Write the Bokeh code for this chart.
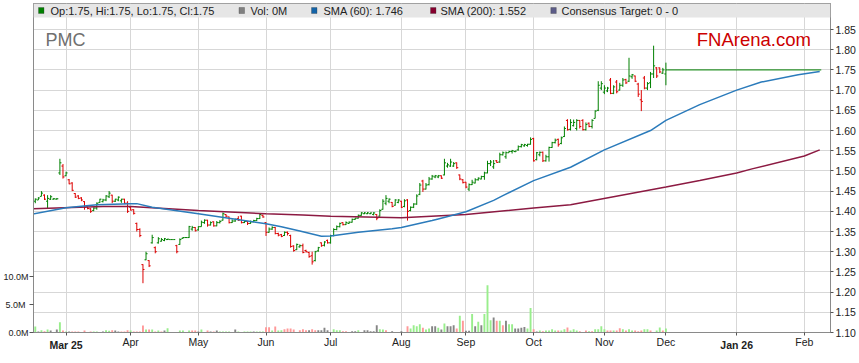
import numpy as np
import pandas as pd
from bokeh.plotting import figure
from bokeh.models import (Range1d, LinearAxis, FixedTicker, Label,
                          BoxAnnotation, ColumnDataSource, NumeralTickFormatter,
                          PrintfTickFormatter, AllLabels)
from bokeh.embed import file_html
from bokeh.resources import INLINE

# ---------------- data ----------------
ticker_name = "PMC"
brand = "FNArena.com"
first_bar_date = "2025-02-17"      # first trading day shown
axis_origin = "2025-03-03"         # weekday axis origin (first weekday of March 2025)

open_ = [
    1.425, 1.428, 1.437, 1.440, 1.425, 1.430, 1.430, 1.430, 1.495, 1.512,
    1.488, 1.478, 1.470, 1.444, 1.438, 1.433, 1.424, 1.411, 1.406, 1.402,
    1.408, 1.422, 1.424, 1.428, 1.436, 1.440, 1.425, 1.428, 1.426, 1.430,
    1.420, 1.410, 1.404, 1.370, 1.355, 1.268, 1.280, 1.278, 1.322, 1.310,
    1.322, 1.326, 1.328, 1.330, 1.330, 1.330, 1.315, 1.318, 1.333, 1.335,
    1.335, 1.356, 1.360, 1.354, 1.362, 1.372, 1.378, 1.366, 1.374, 1.364,
    1.372, 1.378, 1.392, 1.386, 1.372, 1.376, 1.382, 1.388, 1.372, 1.375,
    1.370, 1.374, 1.377, 1.382, 1.390, 1.372, 1.348, 1.356, 1.360, 1.345,
    1.342, 1.340, 1.348, 1.340, 1.314, 1.305, 1.312, 1.315, 1.303, 1.298,
    1.290, 1.278, 1.302, 1.322, 1.316, 1.328, 1.322, 1.340, 1.355, 1.362,
    1.372, 1.367, 1.370, 1.373, 1.380, 1.383, 1.390, 1.394, 1.394, 1.394,
    1.392, 1.392, 1.388, 1.405, 1.420, 1.425, 1.422, 1.415, 1.422, 1.425,
    1.412, 1.428, 1.402, 1.410, 1.418, 1.442, 1.475, 1.455, 1.466, 1.480,
    1.485, 1.485, 1.488, 1.490, 1.512, 1.512, 1.512, 1.520, 1.490, 1.478,
    1.472, 1.455, 1.466, 1.470, 1.478, 1.480, 1.486, 1.495, 1.518, 1.510,
    1.525, 1.522, 1.540, 1.535, 1.545, 1.548, 1.548, 1.552, 1.560, 1.562,
    1.563, 1.566, 1.580, 1.528, 1.540, 1.546, 1.525, 1.535, 1.558, 1.570,
    1.578, 1.568, 1.585, 1.625, 1.603, 1.612, 1.605, 1.625, 1.625, 1.602,
    1.618, 1.610, 1.630, 1.650, 1.705, 1.695, 1.698, 1.725, 1.692, 1.720,
    1.700, 1.712, 1.726, 1.722, 1.733, 1.735, 1.715, 1.676, 1.730, 1.705,
    1.718, 1.740, 1.755, 1.755, 1.742, 1.740,
]
high = [
    1.432, 1.435, 1.450, 1.442, 1.440, 1.440, 1.433, 1.433, 1.530, 1.517,
    1.498, 1.480, 1.472, 1.445, 1.440, 1.435, 1.425, 1.412, 1.408, 1.410,
    1.422, 1.431, 1.431, 1.440, 1.450, 1.441, 1.431, 1.437, 1.431, 1.431,
    1.425, 1.411, 1.405, 1.372, 1.358, 1.269, 1.300, 1.279, 1.342, 1.313,
    1.336, 1.334, 1.334, 1.332, 1.330, 1.330, 1.317, 1.333, 1.336, 1.336,
    1.364, 1.364, 1.361, 1.363, 1.377, 1.380, 1.379, 1.375, 1.375, 1.376,
    1.378, 1.397, 1.393, 1.387, 1.380, 1.382, 1.388, 1.389, 1.378, 1.376,
    1.377, 1.379, 1.384, 1.395, 1.392, 1.373, 1.360, 1.363, 1.361, 1.347,
    1.344, 1.350, 1.350, 1.342, 1.316, 1.320, 1.318, 1.320, 1.305, 1.300,
    1.300, 1.302, 1.312, 1.323, 1.326, 1.330, 1.342, 1.358, 1.365, 1.372,
    1.373, 1.375, 1.375, 1.382, 1.384, 1.392, 1.398, 1.398, 1.398, 1.397,
    1.398, 1.393, 1.405, 1.430, 1.440, 1.432, 1.423, 1.430, 1.430, 1.426,
    1.430, 1.430, 1.412, 1.420, 1.442, 1.470, 1.478, 1.470, 1.485, 1.490,
    1.490, 1.490, 1.489, 1.530, 1.520, 1.530, 1.522, 1.521, 1.491, 1.480,
    1.473, 1.469, 1.478, 1.482, 1.484, 1.488, 1.498, 1.525, 1.527, 1.527,
    1.527, 1.545, 1.548, 1.548, 1.550, 1.552, 1.550, 1.563, 1.567, 1.567,
    1.567, 1.583, 1.582, 1.547, 1.548, 1.548, 1.540, 1.560, 1.572, 1.580,
    1.580, 1.585, 1.610, 1.628, 1.628, 1.627, 1.628, 1.626, 1.628, 1.620,
    1.620, 1.628, 1.650, 1.722, 1.722, 1.712, 1.708, 1.730, 1.712, 1.725,
    1.718, 1.730, 1.728, 1.780, 1.740, 1.736, 1.718, 1.700, 1.735, 1.720,
    1.745, 1.810, 1.757, 1.756, 1.755, 1.768,
]
low = [
    1.420, 1.428, 1.437, 1.428, 1.407, 1.428, 1.429, 1.429, 1.490, 1.481,
    1.487, 1.467, 1.450, 1.433, 1.430, 1.425, 1.404, 1.405, 1.396, 1.400,
    1.404, 1.421, 1.422, 1.425, 1.433, 1.420, 1.423, 1.425, 1.421, 1.418,
    1.396, 1.402, 1.392, 1.350, 1.336, 1.222, 1.279, 1.262, 1.320, 1.296,
    1.320, 1.325, 1.326, 1.329, 1.330, 1.330, 1.296, 1.317, 1.332, 1.334,
    1.334, 1.352, 1.350, 1.352, 1.362, 1.369, 1.362, 1.365, 1.362, 1.363,
    1.370, 1.377, 1.385, 1.370, 1.371, 1.374, 1.376, 1.370, 1.371, 1.366,
    1.369, 1.373, 1.376, 1.381, 1.384, 1.339, 1.347, 1.354, 1.343, 1.338,
    1.336, 1.339, 1.340, 1.310, 1.300, 1.304, 1.310, 1.296, 1.298, 1.285,
    1.268, 1.276, 1.300, 1.312, 1.313, 1.320, 1.320, 1.338, 1.353, 1.360,
    1.365, 1.366, 1.369, 1.372, 1.379, 1.382, 1.389, 1.393, 1.393, 1.393,
    1.390, 1.378, 1.387, 1.404, 1.415, 1.420, 1.410, 1.414, 1.420, 1.408,
    1.410, 1.377, 1.400, 1.408, 1.416, 1.440, 1.448, 1.454, 1.464, 1.478,
    1.482, 1.482, 1.480, 1.489, 1.508, 1.510, 1.510, 1.505, 1.477, 1.469,
    1.457, 1.450, 1.465, 1.469, 1.476, 1.479, 1.478, 1.494, 1.512, 1.505,
    1.520, 1.520, 1.538, 1.530, 1.545, 1.543, 1.546, 1.550, 1.558, 1.560,
    1.560, 1.565, 1.523, 1.526, 1.536, 1.522, 1.523, 1.523, 1.557, 1.568,
    1.560, 1.566, 1.584, 1.600, 1.600, 1.610, 1.600, 1.605, 1.600, 1.600,
    1.608, 1.605, 1.630, 1.648, 1.700, 1.690, 1.695, 1.690, 1.690, 1.692,
    1.699, 1.708, 1.715, 1.720, 1.728, 1.720, 1.683, 1.648, 1.702, 1.700,
    1.705, 1.730, 1.730, 1.742, 1.740, 1.712,
]
close = [
    1.430, 1.433, 1.445, 1.430, 1.432, 1.436, 1.431, 1.431, 1.520, 1.485,
    1.495, 1.468, 1.452, 1.435, 1.432, 1.428, 1.410, 1.407, 1.400, 1.408,
    1.420, 1.430, 1.428, 1.438, 1.445, 1.425, 1.430, 1.435, 1.430, 1.420,
    1.400, 1.403, 1.395, 1.355, 1.340, 1.256, 1.295, 1.265, 1.335, 1.300,
    1.332, 1.330, 1.332, 1.331, 1.330, 1.330, 1.300, 1.330, 1.335, 1.335,
    1.362, 1.360, 1.352, 1.362, 1.373, 1.378, 1.366, 1.372, 1.364, 1.372,
    1.375, 1.394, 1.388, 1.372, 1.376, 1.380, 1.378, 1.372, 1.375, 1.370,
    1.374, 1.377, 1.382, 1.392, 1.386, 1.348, 1.356, 1.360, 1.345, 1.341,
    1.338, 1.348, 1.345, 1.313, 1.303, 1.318, 1.315, 1.298, 1.300, 1.288,
    1.275, 1.300, 1.310, 1.315, 1.324, 1.322, 1.340, 1.355, 1.362, 1.370,
    1.367, 1.372, 1.373, 1.380, 1.383, 1.390, 1.396, 1.396, 1.396, 1.396,
    1.396, 1.383, 1.402, 1.425, 1.432, 1.430, 1.412, 1.428, 1.428, 1.410,
    1.426, 1.400, 1.410, 1.418, 1.438, 1.465, 1.455, 1.465, 1.480, 1.487,
    1.488, 1.488, 1.482, 1.520, 1.515, 1.522, 1.518, 1.508, 1.480, 1.471,
    1.460, 1.466, 1.472, 1.478, 1.482, 1.486, 1.495, 1.518, 1.522, 1.518,
    1.521, 1.540, 1.545, 1.545, 1.548, 1.550, 1.549, 1.560, 1.565, 1.565,
    1.566, 1.578, 1.525, 1.545, 1.546, 1.525, 1.535, 1.558, 1.570, 1.576,
    1.565, 1.582, 1.605, 1.602, 1.620, 1.620, 1.625, 1.610, 1.602, 1.615,
    1.610, 1.625, 1.648, 1.712, 1.716, 1.705, 1.705, 1.692, 1.708, 1.696,
    1.712, 1.725, 1.718, 1.735, 1.738, 1.722, 1.690, 1.672, 1.705, 1.716,
    1.740, 1.760, 1.735, 1.745, 1.750, 1.750,
]
volume_m = [
    1.08, 0.18, 0.42, 0.24, 0.54, 0.36, 0.10, 0.54, 1.86, 0.36,
    0.18, 0.18, 0.18, 0.18, 0.18, 0.05, 0.36, 0.05, 0.18, 0.18,
    0.18, 0.05, 0.18, 0.42, 0.30, 0.42, 0.36, 0.18, 0.18, 0.18,
    0.42, 0.36, 0.18, 0.18, 0.18, 1.26, 0.54, 0.54, 0.54, 0.18,
    0.36, 0.18, 0.36, 0.78, 0.00, 0.00, 0.05, 0.36, 0.36, 0.00,
    0.36, 0.36, 0.36, 0.18, 0.54, 0.05, 0.36, 0.18, 0.18, 0.36,
    0.18, 0.18, 0.18, 0.18, 0.05, 0.54, 0.18, 0.05, 0.18, 0.18,
    0.18, 0.18, 0.18, 0.18, 0.18, 0.96, 0.96, 0.36, 1.08, 0.36,
    0.42, 0.60, 0.72, 0.72, 0.54, 0.10, 0.42, 0.60, 0.42, 0.42,
    0.60, 0.42, 0.42, 0.42, 0.84, 0.42, 0.10, 0.60, 0.42, 0.42,
    0.24, 0.24, 0.10, 0.24, 0.24, 0.42, 0.10, 0.42, 0.42, 0.24,
    0.24, 1.32, 0.60, 0.54, 0.42, 0.10, 0.24, 0.10, 0.10, 0.24,
    0.10, 1.14, 0.72, 1.32, 1.14, 1.50, 0.84, 0.54, 0.72, 1.14,
    1.14, 0.84, 0.54, 1.62, 1.14, 1.14, 1.32, 0.72, 3.00, 2.10,
    0.30, 0.30, 3.30, 1.14, 1.92, 1.32, 3.30, 8.50, 2.20, 2.70,
    2.10, 2.10, 1.32, 2.10, 1.50, 1.50, 0.72, 0.72, 0.84, 1.00,
    0.72, 4.40, 0.60, 0.20, 0.36, 0.24, 0.36, 0.36, 0.60, 0.36,
    0.36, 0.36, 0.60, 0.90, 0.36, 0.60, 0.36, 0.24, 0.10, 0.36,
    0.24, 0.24, 0.60, 0.60, 1.14, 0.60, 0.36, 0.36, 0.36, 0.36,
    0.78, 0.60, 0.36, 0.60, 0.36, 0.36, 0.24, 0.36, 0.60, 0.60,
    0.36, 0.10, 0.36, 0.90, 0.36, 0.72,
]
# sign of the day's change as shown by the volume bar colour (1 up, -1 down, 0 unchanged)
volume_dir = [
    1, 0, 1, -1, 1, 0, 0, 0, 1, -1,
    1, 0, -1, -1, -1, 0, -1, 0, -1, 1,
    1, 0, 0, 1, 1, -1, 0, 0, -1, -1,
    -1, 1, -1, -1, -1, -1, 1, -1, 1, -1,
    1, -1, 0, 1, 0, 0, 0, 1, 1, 0,
    1, -1, -1, 0, 1, 0, -1, 0, -1, 0,
    1, 1, 1, 1, 0, 0, 1, 0, 1, 1,
    1, 0, 1, 1, 1, -1, -1, 1, -1, 1,
    1, -1, -1, -1, -1, 0, -1, -1, -1, 0,
    -1, -1, 0, 0, 0, 0, 0, 1, 1, 1,
    -1, -1, 0, 0, 0, 1, 0, 0, 0, 0,
    0, 0, 1, 1, -1, 0, 0, 0, 0, 0,
    0, -1, 1, 1, 1, 1, -1, 1, 1, 0,
    0, 1, 0, 1, 0, 0, 0, -1, 1, -1,
    0, 0, 1, 0, 1, 0, 1, 1, 1, 0,
    -1, 1, -1, 0, 1, 1, 0, 0, 0, 0,
    1, 1, -1, 0, 1, -1, 1, 1, 1, 1,
    -1, 1, 1, -1, 1, 1, 1, -1, 0, -1,
    1, -1, 1, 1, 1, 1, -1, -1, 1, -1,
    -1, 1, -1, 1, 1, -1, -1, -1, 1, 1,
    -1, 0, 1, 1, -1, 1,
]

# flat continuation of the last close into the future part of the axis
proj_dates = ["2025-12-02", "2026-02-09"]
proj_price = [1.75, 1.75]

sma60_dates = ["2025-02-14", "2025-03-03", "2025-03-17", "2025-04-01", "2025-04-03",
               "2025-04-10", "2025-05-01", "2025-06-02", "2025-06-09", "2025-06-17",
               "2025-06-26", "2025-07-01", "2025-07-14", "2025-07-29", "2025-08-01",
               "2025-08-15", "2025-08-19", "2025-09-01", "2025-09-12", "2025-09-17",
               "2025-10-01", "2025-10-17", "2025-11-03", "2025-11-24", "2025-12-01",
               "2025-12-16", "2026-01-01", "2026-01-13", "2026-01-29", "2026-02-09"]
sma60 = [1.393, 1.409, 1.416, 1.419, 1.419,
         1.410, 1.394, 1.369, 1.362, 1.351,
         1.338, 1.339, 1.348, 1.357, 1.360,
         1.377, 1.381, 1.399, 1.427, 1.439,
         1.476, 1.509, 1.552, 1.600, 1.625,
         1.664, 1.700, 1.720, 1.738, 1.746]

sma200_dates = ["2025-02-14", "2025-03-19", "2025-04-01", "2025-05-01", "2025-06-02",
                "2025-06-18", "2025-07-01", "2025-08-01", "2025-09-01", "2025-10-01",
                "2025-10-17", "2025-12-01", "2025-12-16", "2026-01-01", "2026-01-08",
                "2026-02-02", "2026-02-09"]
sma200 = [1.406, 1.412, 1.412, 1.402, 1.394,
          1.391, 1.388, 1.384, 1.392, 1.408,
          1.416, 1.460, 1.476, 1.495, 1.505,
          1.537, 1.552]

month_dates = ["2025-03-03", "2025-04-01", "2025-05-01", "2025-06-02", "2025-07-01",
               "2025-08-01", "2025-09-01", "2025-10-01", "2025-11-03", "2025-12-01",
               "2026-01-01", "2026-02-02"]
month_labels = ["Mar 25", "Apr", "May", "Jun", "Jul", "Aug", "Sep", "Oct", "Nov",
                "Dec", "Jan 26", "Feb"]

price_ticks = [1.10, 1.15, 1.20, 1.25, 1.30, 1.35, 1.40, 1.45, 1.50, 1.55,
               1.60, 1.65, 1.70, 1.75, 1.80, 1.85]
volume_ticks_m = [0.0, 5.0, 10.0]

legend_texts = ["Op:1.75, Hi:1.75, Lo:1.75, Cl:1.75", "Vol: 0M", "SMA (60): 1.746",
                "SMA (200): 1.552", "Consensus Target: 0 - 0"]

# ---------------- helpers ----------------
ORIGIN = np.datetime64(axis_origin)


def wd_index(dates):
    d = pd.to_datetime(pd.Index(dates)).values.astype("datetime64[D]")
    return np.busday_count(ORIGIN, d)


bar_dates = pd.bdate_range(first_bar_date, periods=len(close))
bx = wd_index(bar_dates).astype(float)
month_idx = [int(v) for v in wd_index(month_dates)]
year_idx = [i for i, l in zip(month_idx, month_labels) if " " in l]
plain_idx = [i for i, l in zip(month_idx, month_labels) if " " not in l]
vol_mid = volume_ticks_m[1:2]
vol_ends = volume_ticks_m[0:1] + volume_ticks_m[2:3]

GREEN = "#008000"
RED = "#dd0000"
TICK = 0.5

bar_col = [GREEN if c >= o else RED for o, c in zip(open_, close)]
vcol_map = {1: "#99ee8c", -1: "#ff9999", 0: "#858585"}
vol_col = [vcol_map[d] for d in volume_dir]

FONT = "Liberation Sans"
AX_FS = "10.5px"
VOL_FS = "9px"
TXT = "#222222"
FRAME = "#8a8a8a"
TICKC = "#555555"

# ---------------- figure ----------------
p = figure(width=858, height=362,
           x_range=Range1d(-10.58, 248.5), y_range=Range1d(1.10, 1.9144),
           output_backend="svg", toolbar_location=None, y_axis_location="right",
           min_border_left=30, min_border_right=27, min_border_top=3, min_border_bottom=30,
           background_fill_color="white", border_fill_color="white",
           outline_line_color=FRAME, outline_line_width=1)
p.extra_y_ranges = {"vol": Range1d(0, 59.07)}

# grids
p.xgrid.ticker = FixedTicker(ticks=month_idx)
p.ygrid.ticker = FixedTicker(ticks=price_ticks)
for g in (p.xgrid, p.ygrid):
    g.grid_line_color = "#d7d7d7"
    g.grid_line_width = 1

# right price axis
yax = p.yaxis[0]
yax.ticker = FixedTicker(ticks=price_ticks)
yax.formatter = NumeralTickFormatter(format="0.00")
yax.major_label_policy = AllLabels()
yax.major_tick_out = 3
yax.major_tick_in = 0
yax.minor_tick_line_color = None
yax.major_label_standoff = 2
yax.major_label_text_font = FONT
yax.major_label_text_font_size = AX_FS
yax.major_label_text_color = TXT
yax.axis_line_color = FRAME
yax.major_tick_line_color = TICKC

# bottom date axis: plain month labels; year months get a tick only (label on 2nd axis)
xax = p.xaxis[0]
xax.ticker = FixedTicker(ticks=plain_idx, minor_ticks=year_idx)
xax.major_label_overrides = {i: l for i, l in zip(month_idx, month_labels) if " " not in l}
xax.major_label_policy = AllLabels()
xax.major_tick_out = 3
xax.major_tick_in = 0
xax.minor_tick_out = 3
xax.minor_tick_in = 0
xax.minor_tick_line_color = TICKC
xax.major_label_standoff = 0
xax.major_label_text_font = FONT
xax.major_label_text_font_size = AX_FS
xax.major_label_text_color = TXT
xax.axis_line_color = FRAME
xax.major_tick_line_color = TICKC

# second date axis carrying only the bold year labels, pulled up onto the same row
yr_ax = LinearAxis(ticker=FixedTicker(ticks=year_idx),
                   major_label_overrides={i: l for i, l in zip(month_idx, month_labels) if " " in l},
                   major_label_policy=AllLabels(),
                   major_tick_out=0, major_tick_in=0, major_tick_line_color=None,
                   minor_tick_line_color=None, axis_line_color=None,
                   major_label_standoff=-12, major_label_text_font=FONT,
                   major_label_text_font_size=AX_FS, major_label_text_font_style="bold",
                   major_label_text_color=TXT)
p.add_layout(yr_ax, "below")

# left volume axis, inner part: all three tick marks, labels of the end ticks
vax_ends = LinearAxis(y_range_name="vol", ticker=FixedTicker(ticks=vol_ends, minor_ticks=vol_mid),
                      formatter=PrintfTickFormatter(format="%.1fM"),
                      major_label_policy=AllLabels(),
                      major_tick_out=4, major_tick_in=0, minor_tick_out=4, minor_tick_in=0,
                      major_label_standoff=1, major_label_text_font=FONT,
                      major_label_text_font_size=VOL_FS, major_label_text_color=TXT,
                      axis_line_color=FRAME, major_tick_line_color=TICKC,
                      minor_tick_line_color=TICKC)
p.add_layout(vax_ends, "left")

# left volume axis, outer part: label of the middle tick, pulled back onto the same column
vax_mid = LinearAxis(y_range_name="vol", ticker=FixedTicker(ticks=vol_mid),
                     formatter=PrintfTickFormatter(format="%.1fM"),
                     major_label_policy=AllLabels(),
                     major_tick_out=0, major_tick_in=0, major_tick_line_color=None,
                     minor_tick_line_color=None, axis_line_color=None,
                     major_label_standoff=-25, major_label_text_font=FONT,
                     major_label_text_font_size=VOL_FS, major_label_text_color=TXT)
p.add_layout(vax_mid, "left")

# ---------------- glyphs ----------------
vsrc = ColumnDataSource(dict(x=bx, v=volume_m, col=vol_col))
p.vbar(x="x", top="v", bottom=0, width=0.62, y_range_name="vol",
       fill_color="col", line_color=None, source=vsrc)

src = ColumnDataSource(dict(x=bx, xl=bx - TICK, xr=bx + TICK, o=open_, h=high,
                            l=low, c=close, col=bar_col))
p.segment(x0="x", y0="l", x1="x", y1="h", line_color="col", line_width=1, source=src)
p.segment(x0="xl", y0="o", x1="x", y1="o", line_color="col", line_width=1, source=src)
p.segment(x0="x", y0="c", x1="xr", y1="c", line_color="col", line_width=1, source=src)

px = wd_index(proj_dates).astype(float)
p.line([px[0] - TICK, px[1] + TICK], proj_price, line_color=GREEN, line_width=1)

p.line(wd_index(sma200_dates), sma200, line_color="#8c1a42", line_width=1.5)
p.line(wd_index(sma60_dates), sma60, line_color="#2b7bbb", line_width=1.5)

# ---------------- annotations (inside the frame) ----------------
p.add_layout(BoxAnnotation(bottom=315, bottom_units="screen", fill_color="#e6e6e6",
                           fill_alpha=1.0, line_color=None))
sq_left = [5, 205.5, 278, 397, 517.3]
sq_color = [GREEN, "#808080", "#1464a8", "#86002e", "#5c5c88"]
txt_left = [17, 217, 290, 407, 528]
for sl, sc, tl, tx in zip(sq_left, sq_color, txt_left, legend_texts):
    p.add_layout(BoxAnnotation(left=sl, right=sl + 5.5, bottom=319, top=325,
                               left_units="screen", right_units="screen",
                               bottom_units="screen", top_units="screen",
                               fill_color=sc, fill_alpha=1.0, line_color="#333333",
                               line_width=1))
    p.add_layout(Label(x=tl, y=322, x_units="screen", y_units="screen", text=tx,
                       text_font=FONT, text_font_size="11px", text_color=TXT,
                       text_baseline="middle", text_align="left"))

p.add_layout(Label(x=12, y=292.7, x_units="screen", y_units="screen", text=ticker_name,
                   text_font=FONT, text_font_size="18px", text_color="#707070",
                   text_baseline="alphabetic"))
p.add_layout(Label(x=663.3, y=293, x_units="screen", y_units="screen", text=brand,
                   text_font=FONT, text_font_size="18.5px", text_color="#cc0000",
                   text_baseline="alphabetic"))

open("out.html", "w").write(file_html(p, INLINE))
